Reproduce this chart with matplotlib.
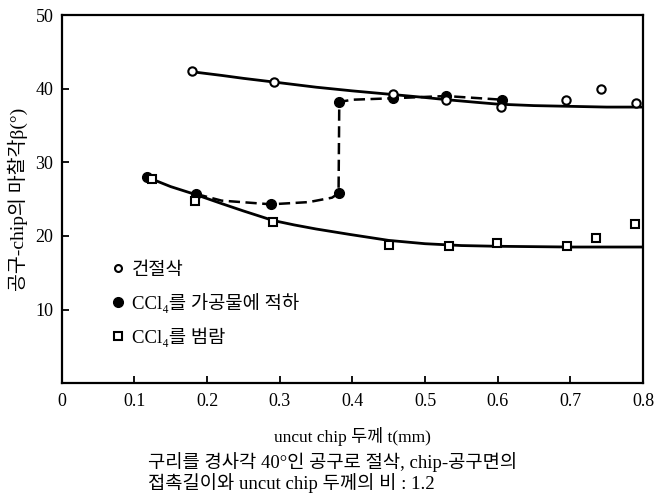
import matplotlib
matplotlib.use("Agg")
import matplotlib.pyplot as plt
from matplotlib.lines import Line2D

plt.rcParams['font.family'] = ['Liberation Serif', 'Noto Sans CJK KR', 'DejaVu Sans']

# --- data ---
dry_t = [0.179, 0.292, 0.456, 0.529, 0.604, 0.694, 0.742, 0.791]
dry_b = [42.4, 40.9, 39.3, 38.4, 37.5, 38.5, 39.9, 38.1]

wet_t = [0.117, 0.185, 0.288, 0.381, 0.382, 0.456, 0.529, 0.606]
wet_b = [28.0, 25.7, 24.3, 25.8, 38.2, 38.7, 39.0, 38.5]

flood_t = [0.124, 0.184, 0.291, 0.450, 0.533, 0.599, 0.695, 0.736, 0.789]
flood_b = [27.8, 24.8, 21.9, 18.8, 18.65, 19.0, 18.65, 19.7, 21.6]

# solid trend curves
upper_t = [0.179, 0.22, 0.25, 0.292, 0.35, 0.40, 0.456, 0.50, 0.53, 0.57, 0.60, 0.65, 0.70, 0.75, 0.80]
upper_b = [42.3, 41.8, 41.4, 40.9, 40.2, 39.7, 39.2, 38.8, 38.5, 38.15, 37.9, 37.7, 37.6, 37.5, 37.5]
lower_t = [0.117, 0.15, 0.185, 0.22, 0.25, 0.291, 0.32, 0.35, 0.397, 0.45, 0.50, 0.55, 0.60, 0.70, 0.80]
lower_b = [28.0, 26.7, 25.6, 24.4, 23.4, 22.1, 21.5, 20.95, 20.2, 19.4, 18.95, 18.7, 18.6, 18.5, 18.5]

# dashed path (CCl4 applied to workpiece)
dash_t = [0.185, 0.22, 0.288, 0.34, 0.372, 0.381, 0.382, 0.40, 0.456, 0.529, 0.606]
dash_b = [25.7, 24.8, 24.3, 24.6, 25.2, 25.8, 38.2, 38.5, 38.7, 39.0, 38.5]

x_ticks = [0, 0.1, 0.2, 0.3, 0.4, 0.5, 0.6, 0.7, 0.8]
x_labels = ['0', '0.1', '0.2', '0.3', '0.4', '0.5', '0.6', '0.7', '0.8']
y_ticks = [10, 20, 30, 40, 50]

legend_labels = ['건절삭', 'CCl₄를 가공물에 적하', 'CCl₄를 범람']
x_label = 'uncut chip 두께 t(mm)'
y_label = '공구-chip의 마찰각β(°)'
caption = ['구리를 경사각 40°인 공구로 절삭, chip-공구면의',
           '접촉길이와 uncut chip 두께의 비 : 1.2']

fig = plt.figure(figsize=(6.58, 4.97), dpi=100)
ax = fig.add_axes([0.0938, 0.2288, 0.8834, 0.741])

ax.plot(upper_t, upper_b, '-', color='black', lw=2.0, zorder=2)
ax.plot(lower_t, lower_b, '-', color='black', lw=2.0, zorder=2)
ax.plot(dash_t, dash_b, color='black', lw=1.8, ls=(0, (4.5, 2.2)), zorder=2)

ax.plot(dry_t, dry_b, 'o', mfc='white', mec='black', mew=1.5, ms=6, ls='none', zorder=4)
ax.plot(wet_t, wet_b, 'o', mfc='black', mec='black', ms=7, ls='none', zorder=3)
ax.plot(flood_t, flood_b, 's', mfc='white', mec='black', mew=1.5, ms=6, ls='none', zorder=4)

ax.set_xlim(0, 0.8)
ax.set_ylim(0, 50)
ax.set_xticks(x_ticks)
ax.set_xticklabels(x_labels)
ax.set_yticks(y_ticks)
for s in ax.spines.values():
    s.set_linewidth(1.6)
ax.tick_params(axis='both', direction='in', length=5, width=1.3, labelsize=13)
ax.tick_params(axis='x', pad=7)
ax.tick_params(axis='y', pad=6)
ax.xaxis.get_major_ticks()[0].tick1line.set_visible(False)

ax.set_xlabel(x_label, fontsize=12.5, labelpad=12)
ax.set_ylabel(y_label, fontsize=14, labelpad=5)

handles = [
    Line2D([], [], marker='o', ls='none', mfc='white', mec='black', mew=1.5, ms=5),
    Line2D([], [], marker='o', ls='none', mfc='black', mec='black', ms=7),
    Line2D([], [], marker='s', ls='none', mfc='white', mec='black', mew=1.5, ms=5.5),
]
ax.legend(handles, legend_labels, loc='upper left', bbox_to_anchor=(0.075, 0.35),
          frameon=False, fontsize=13.5, handlelength=0.6, handletextpad=0.4,
          labelspacing=0.75, borderaxespad=0)

fig.text(148 / 658, 1 - 462 / 497, caption[0], fontsize=13.5, va='center', ha='left')
fig.text(148 / 658, 1 - 483 / 497, caption[1], fontsize=13.5, va='center', ha='left')

fig.savefig('out.png', dpi=100)
